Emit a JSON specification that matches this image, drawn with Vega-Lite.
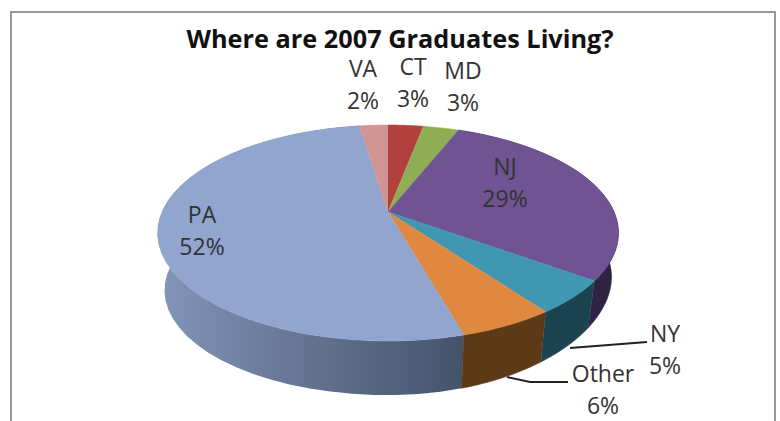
{
"$schema":"https://vega.github.io/schema/vega-lite/v6.json",
"width":780,"height":421,"padding":0,"autosize":{"type":"none"},"background":"white",
"title":{"text":"Where are 2007 Graduates Living?","anchor":"middle","frame":"group","dx":10,"offset":-53,"font":"Open Sans","fontSize":25.3,"fontWeight":"bold","color":"#111111"},
"view":{"stroke":null},
"resolve":{"scale":{"fill":"independent","stroke":"independent"}},
"data":{"values":[
{"region":"CT","share":3,"rank":1},
{"region":"MD","share":3,"rank":2},
{"region":"NJ","share":29,"rank":3},
{"region":"NY","share":5,"rank":4},
{"region":"Other","share":5.6,"rank":5},
{"region":"PA","share":52,"rank":6},
{"region":"VA","share":2.4,"rank":7}
]},
"transform":[
{"window":[{"op":"sum","field":"share","as":"end"}],"sort":[{"field":"rank"}]},
{"calculate":"datum.end-datum.share","as":"start"},
{"calculate":"sequence(-1,82)","as":"k"},
{"flatten":["k"]},
{"calculate":"datum.k<=40?max(datum.k,0)/40:(81-datum.k)/40","as":"frac"},
{"calculate":"2*PI*(datum.start+datum.frac*datum.share)/100","as":"theta"},
{"calculate":"226*sin(datum.theta)/(1+0.1945*cos(datum.theta))","as":"ex"},
{"calculate":"103.9*cos(datum.theta)/(1+0.1945*cos(datum.theta))","as":"ey"},
{"calculate":"datum.k<0?0:datum.ex","as":"topx"},
{"calculate":"datum.k<0?0:datum.ey","as":"topy"},
{"calculate":"datum.k<=40?datum.ex:0.97*datum.ex","as":"wallx"},
{"calculate":"datum.k<=40?datum.ey:0.97*datum.ey-(58-14*pow(max(sin(datum.theta),0),2))","as":"wally"}
],
"layer":[
{"data":{"values":[{"a":-377,"b":387,"c":200,"d":-260}]},
 "mark":{"type":"rect","fill":null,"stroke":"#999999","strokeWidth":2,"clip":false},
 "encoding":{"x":{"field":"a","type":"quantitative","scale":{"domain":[-388,392]},"axis":null},"x2":{"field":"b"},"y":{"field":"c","type":"quantitative","scale":{"domain":[-209,212]},"axis":null},"y2":{"field":"d"}}},
{"transform":[{"filter":"datum.k>=0 && datum.region==='PA'"}],
 "mark":{"type":"line","strokeWidth":0,"fill":{"gradient":"linear","x1":0,"y1":0,"x2":1,"y2":0,"stops":[{"offset":0,"color":"#8296ba"},{"offset":0.5,"color":"#63738f"},{"offset":1,"color":"#43536a"}]}},
 "encoding":{"x":{"field":"wallx","type":"quantitative","scale":{"domain":[-388,392]},"axis":null},"y":{"field":"wally","type":"quantitative","scale":{"domain":[-209,212]},"axis":null},"order":{"field":"k","type":"quantitative"}}},
{"transform":[{"filter":"datum.k>=0 && (datum.region==='Other'||datum.region==='NY'||datum.region==='NJ')"}],
 "mark":{"type":"line","strokeWidth":0.6},
 "encoding":{"x":{"field":"wallx","type":"quantitative","scale":{"domain":[-388,392]},"axis":null},"y":{"field":"wally","type":"quantitative","scale":{"domain":[-209,212]},"axis":null},"order":{"field":"k","type":"quantitative"},
 "fill":{"field":"region","type":"nominal","legend":null,"scale":{"domain":["NJ","NY","Other"],"range":["#2e2342","#1c4450","#5c3a17"]}},
 "stroke":{"field":"region","type":"nominal","legend":null,"scale":{"domain":["NJ","NY","Other"],"range":["#2e2342","#1c4450","#5c3a17"]}}}},
{"transform":[{"filter":"datum.k<=40"}],
 "mark":{"type":"line","strokeWidth":0.6},
 "encoding":{"x":{"field":"topx","type":"quantitative","scale":{"domain":[-388,392]},"axis":null},"y":{"field":"topy","type":"quantitative","scale":{"domain":[-209,212]},"axis":null},"order":{"field":"k","type":"quantitative"},
 "fill":{"field":"region","type":"nominal","legend":null,"scale":{"domain":["CT","MD","NJ","NY","Other","PA","VA"],"range":["#b3403d","#8fae54","#705392","#3f97b1","#df8840","#91a5cf","#d09493"]}},
 "stroke":{"field":"region","type":"nominal","legend":null,"scale":{"domain":["CT","MD","NJ","NY","Other","PA","VA"],"range":["#b3403d","#8fae54","#705392","#3f97b1","#df8840","#91a5cf","#d09493"]}}}},
{"data":{"values":[
{"leader":"NY","step":1,"lx":182,"ly":-136},
{"leader":"NY","step":2,"lx":259,"ly":-130},
{"leader":"Other","step":1,"lx":119,"ly":-165},
{"leader":"Other","step":2,"lx":142,"ly":-170},
{"leader":"Other","step":3,"lx":180,"ly":-170}
]},
 "mark":{"type":"line","color":"#222222","strokeWidth":2},
 "encoding":{"x":{"field":"lx","type":"quantitative","scale":{"domain":[-388,392]},"axis":null},"y":{"field":"ly","type":"quantitative","scale":{"domain":[-209,212]},"axis":null},"detail":{"field":"leader"},"order":{"field":"step","type":"quantitative"}}},
{"transform":[
 {"filter":"datum.k===-1"},
 {"calculate":"{CT:[25,144],MD:[75,140],NJ:[117,44],NY:[277,-123],Other:[215,-163],PA:[-186,-4],VA:[-25,142]}[datum.region]","as":"pos"},
 {"calculate":"datum.pos[0]","as":"lx"},
 {"calculate":"datum.pos[1]","as":"ly"},
 {"calculate":"datum.region+'\\n'+format(datum.share,'.0f')+'%'","as":"lab"}
 ],
 "mark":{"type":"text","font":"Open Sans","fontSize":23,"color":"#333333","lineBreak":"\n","lineHeight":32,"align":"center","baseline":"middle"},
 "encoding":{"x":{"field":"lx","type":"quantitative","scale":{"domain":[-388,392]},"axis":null},"y":{"field":"ly","type":"quantitative","scale":{"domain":[-209,212]},"axis":null},"text":{"field":"lab"}}}
]
}
